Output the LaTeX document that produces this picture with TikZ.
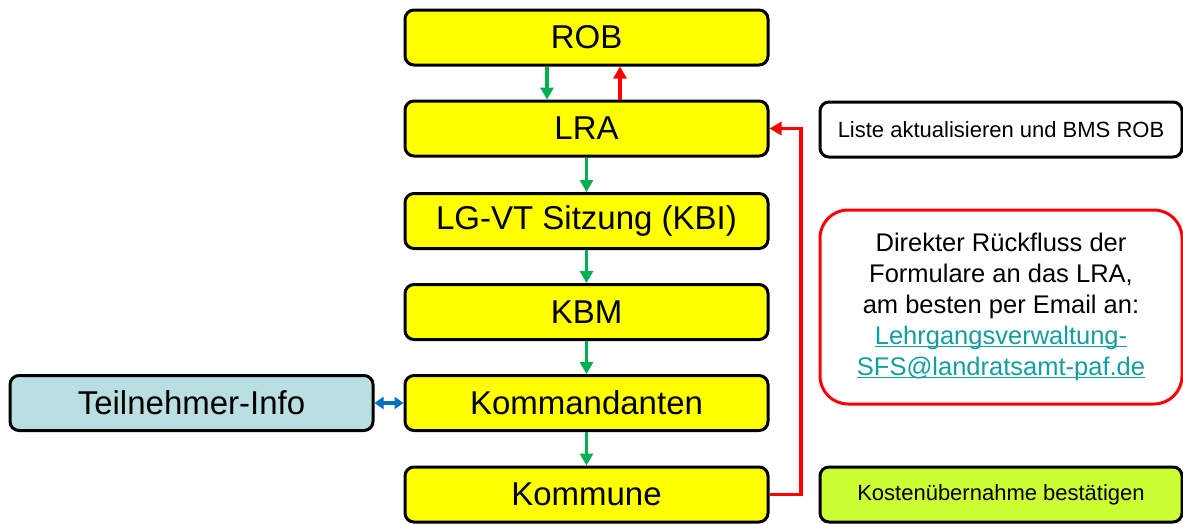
\documentclass[tikz,border=0pt]{standalone}
\usepackage{fontspec}
\setmainfont{Liberation Sans}
\usepackage{tikz}
\usetikzlibrary{arrows.meta}

\definecolor{boxyellow}{HTML}{FFFF00}
\definecolor{infoblue}{HTML}{B9DFE2}
\definecolor{kostgreen}{HTML}{CCFF33}
\definecolor{flowgreen}{HTML}{00B050}
\definecolor{flowred}{HTML}{FF0000}
\definecolor{flowblue}{HTML}{0070C0}
\definecolor{linkteal}{HTML}{149E9E}

% underline at a fixed depth, through the descenders
\newcommand{\linkline}[1]{\setbox0\hbox{#1}\rlap{\rule[-2.5pt]{\wd0}{1.5pt}}\box0}

\tikzset{
  stage/.style={draw, line width=3pt, rounded corners=9pt, fill=boxyellow,
    minimum width=363pt, minimum height=55pt, inner sep=0pt,
    font=\fontsize{33}{38}\selectfont},
  note/.style={draw, line width=3pt, rounded corners=9pt, fill=white,
    minimum width=362pt, minimum height=55pt, inner sep=0pt,
    font=\fontsize{22}{26}\selectfont},
  flow/.style={line width=3.5pt, -{Triangle[width=13pt,length=12pt]}}
}

\begin{document}
\begin{tikzpicture}[x=1pt, y=-1pt]
    \useasboundingbox (0,0) rectangle (1183,523);

    \node[stage] (rob) at (586.5, 37.5) {ROB};
    \node[stage] (lra) at (586.5, 128.5) {LRA};
    \node[stage] (lgvt) at (586.5, 221) {LG-VT Sitzung (KBI)};
    \node[stage] (kbm) at (586.5, 312) {KBM};
    \node[stage] (kdt) at (586.5, 403) {Kommandanten};
    \node[stage] (kommune) at (586.5, 494.5) {Kommune};

    \node[stage, fill=infoblue] (info) at (191.5, 403) {Teilnehmer-Info};

    \node[note] (liste) at (1001, 129.5) {Liste aktualisieren und BMS ROB};
    \node[note, draw=flowred, rounded corners=28pt, minimum height=194pt,
      font=\fontsize{25.5}{31}\selectfont, align=center] (rueck) at (1001, 307)
      {Direkter R\"uckfluss der\\Formulare an das LRA,\\am besten per Email an:\\
       \textcolor{linkteal}{\linkline{Lehrgangsverwaltung-}}\\
       \textcolor{linkteal}{\linkline{SFS@landratsamt-paf.de}}};
    \node[note, fill=kostgreen] (kosten) at (1001, 494.5) {Kosten\"ubernahme best\"atigen};

    \draw[flow, flowgreen] ([xshift=-39.5pt]rob.south) -- ([xshift=-39.5pt]lra.north);
    \draw[flow, flowred] ([xshift=33.5pt]lra.north) -- ([xshift=33.5pt]rob.south);
    \draw[flow, flowgreen] (lra) -- (lgvt);
    \draw[flow, flowgreen] (lgvt) -- (kbm);
    \draw[flow, flowgreen] (kbm) -- (kdt);
    \draw[flow, flowgreen] (kdt) -- (kommune);
    \draw[flow, flowred] (kommune.east) -| (801, 300) |- (lra.east);
    \draw[line width=3.5pt, flowblue, {Triangle[width=12pt,length=9pt]}-{Triangle[width=12pt,length=9pt]}] (info) -- (kdt);
\end{tikzpicture}
\end{document}
